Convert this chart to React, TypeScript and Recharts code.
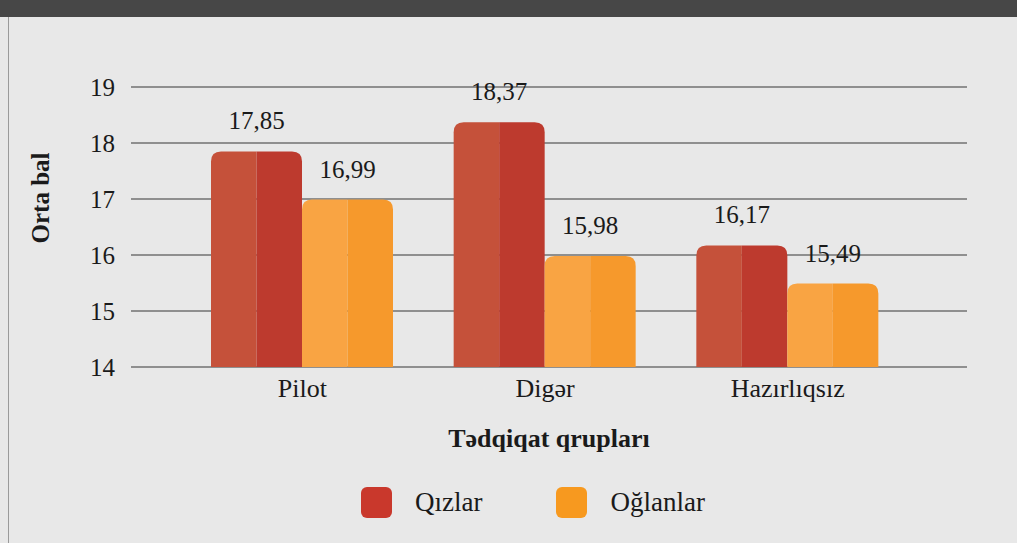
import React from 'react';
import { BarChart, Bar, XAxis, YAxis, CartesianGrid, Legend, LabelList, Label } from 'recharts';

const groups = ['Pilot', 'Digər', 'Hazırlıqsız'];
const girls = [17.85, 18.37, 16.17];
const boys = [16.99, 15.98, 15.49];
const yTicks = [14, 15, 16, 17, 18, 19];

const data = groups.map((g, i) => ({ group: g, girls: girls[i], boys: boys[i] }));

const FONT = '"Liberation Serif", "Times New Roman", serif';

const series = [
  { key: 'girls', name: 'Qızlar', light: '#c5513a', dark: '#bd3a2e', swatch: '#c9382c' },
  { key: 'boys', name: 'Oğlanlar', light: '#f9a443', dark: '#f6992c', swatch: '#f7991f' },
];

// bar drawn as two vertical halves, rounded at the top
const twoTone = (light: string, dark: string) => (props: any) => {
  const { x, y, width, height } = props;
  if (!height || height <= 0) return null;
  const r = Math.min(10, height, width / 2);
  const mid = x + width / 2;
  const bottom = y + height;
  const left = `M${x},${bottom} L${x},${y + r} Q${x},${y} ${x + r},${y} L${mid},${y} L${mid},${bottom} Z`;
  const right = `M${mid},${bottom} L${mid},${y} L${x + width - r},${y} Q${x + width},${y} ${x + width},${y + r} L${x + width},${bottom} Z`;
  return (
    <g>
      <path d={left} fill={light} />
      <path d={right} fill={dark} />
    </g>
  );
};

const fmt = (v: any) => Number(v).toFixed(2).replace('.', ',');

const LegendBox = () => (
  <div style={{ display: 'flex', alignItems: 'center', fontFamily: FONT, fontSize: 27, color: '#1a1a1a' }}>
    {series.map((s, i) => (
      <div key={s.key} style={{ display: 'flex', alignItems: 'center', marginRight: i === 0 ? 74 : 0 }}>
        <div style={{ width: 31, height: 31, borderRadius: 6, background: s.swatch, marginRight: 23 }} />
        <span>{s.name}</span>
      </div>
    ))}
  </div>
);

export default function App() {
  return (
    <div style={{ position: 'absolute', left: 0, top: 0, width: 1017, height: 543, background: '#e8e8e8', overflow: 'hidden' }}>
      <div style={{ position: 'absolute', left: 0, top: 0, width: 1017, height: 17, background: '#474747' }} />
      <div style={{ position: 'absolute', left: 8, top: 17, width: 1, height: 526, background: '#9a9a9a' }} />
      <BarChart
        width={1017}
        height={543}
        data={data}
        margin={{ top: 87, right: 50, left: 20, bottom: 65 }}
        barGap={0}
        barCategoryGap={30}
        style={{ position: 'absolute', left: 0, top: 0 }}
      >
        <CartesianGrid vertical={false} stroke="#8f8f8f" strokeWidth={2} />
        <XAxis
          dataKey="group"
          axisLine={false}
          tickLine={false}
          tickSize={0}
          tickMargin={12}
          height={80}
          padding={{ left: 50, right: 58 }}
          tick={{ fontFamily: FONT, fontSize: 26, fill: '#1a1a1a' }}
        >
          <Label
            value="Tədqiqat qrupları"
            position="insideBottom"
            offset={0}
            style={{ fontFamily: FONT, fontSize: 26, fontWeight: 'bold', fill: '#1a1a1a' }}
          />
        </XAxis>
        <YAxis
          domain={[14, 19]}
          ticks={yTicks}
          interval={0}
          axisLine={false}
          tickLine={false}
          tickSize={0}
          tickMargin={16}
          width={111}
          tick={{ fontFamily: FONT, fontSize: 25, fill: '#1a1a1a' }}
        >
          <Label
            content={() => (
              <text
                x={40}
                y={198}
                transform="rotate(-90 40 198)"
                textAnchor="middle"
                dominantBaseline="central"
                style={{ fontFamily: FONT, fontSize: 25, fontWeight: 'bold', fill: '#1a1a1a' }}
              >
                Orta bal
              </text>
            )}
          />
        </YAxis>
        <Legend
          verticalAlign="bottom"
          content={<LegendBox />}
          wrapperStyle={{ top: 487, left: 361, width: 'auto', bottom: 'auto' }}
        />
        {series.map((s) => (
          <Bar
            key={s.key}
            dataKey={s.key}
            name={s.name}
            fill={s.dark}
            shape={twoTone(s.light, s.dark)}
            isAnimationActive={false}
          >
            <LabelList
              dataKey={s.key}
              position="top"
              offset={22}
              formatter={fmt}
              style={{ fontFamily: FONT, fontSize: 25, fill: '#1a1a1a' }}
            />
          </Bar>
        ))}
      </BarChart>
    </div>
  );
}
